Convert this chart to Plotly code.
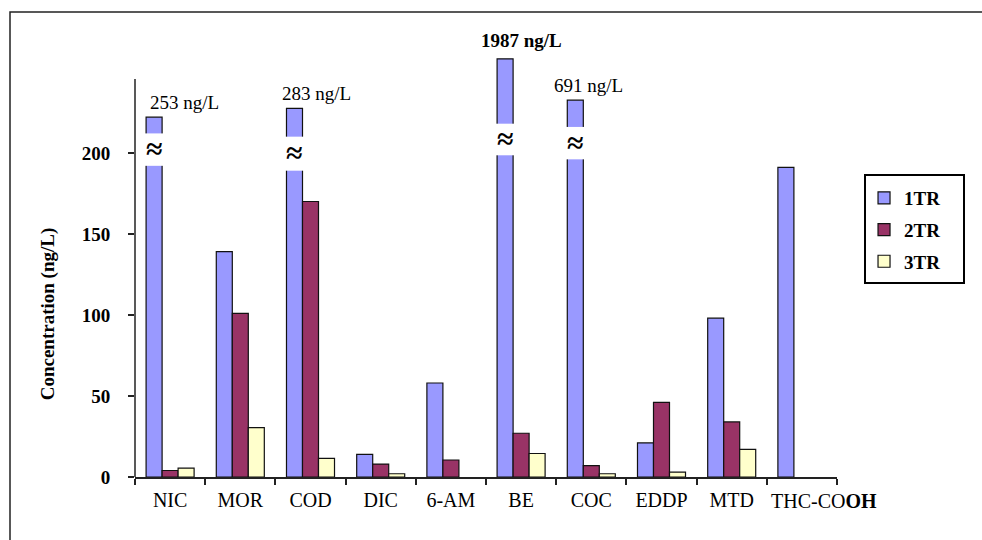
import plotly.graph_objects as go

# Compounds measured in each treatment step
categories = ["NIC", "MOR", "COD", "DIC", "6-AM", "BE", "COC", "EDDP", "MTD", "THC-COOH"]
tick_text = ["NIC", "MOR", "COD", "DIC", "6-AM", "BE", "COC", "EDDP", "MTD", "THC-CO<b>OH</b>"]

# Concentrations (ng/L); None = not detected
tr1 = [253, 139, 283, 14, 58, 1987, 691, 21, 98, 191]
tr2 = [4, 101, 170, 8, 10.5, 27, 7, 46, 34, None]
tr3 = [5.5, 30.5, 11.5, 2, None, 14.5, 2, 3, 17, None]

y_ticks = [0, 50, 100, 150, 200]

# Bars above the axis break are drawn to a shortened height, with a cut
axis_break = 200
cut_top = {"NIC": 222, "COD": 227.5, "BE": 258, "COC": 232.5}
cut_gap = {"NIC": (192, 212), "COD": (189, 210), "BE": (198.5, 218), "COC": (196, 216)}
label_shift = {"NIC": (14, 2), "COD": (6, 2), "BE": (0, 6), "COC": (-3, 2)}
bold_labels = {"BE"}

FONT = "Liberation Serif"
colors = {"1TR": "#9999FF", "2TR": "#993366", "3TR": "#FFFFCC"}
bargap = 0.316
bw = (1 - bargap) / 3  # width of one bar in category units

tr1_drawn = [cut_top[c] if (v is not None and v > axis_break) else v
             for c, v in zip(categories, tr1)]

fig = go.Figure()
for name, drawn, real in [("1TR", tr1_drawn, tr1), ("2TR", tr2, tr2), ("3TR", tr3, tr3)]:
    fig.add_bar(
        x=categories, y=drawn, name=name, legendgroup=name,
        customdata=real, hovertemplate="%{x}: %{customdata} ng/L<extra>" + name + "</extra>",
        marker=dict(color=colors[name], line=dict(color="#111111", width=1.2)),
    )

shapes = []
annotations = []
for i, c in enumerate(categories):
    if c not in cut_top:
        continue
    lo, hi = cut_gap[c]
    xc = i - bw
    shapes.append(dict(type="rect", xref="x", yref="y",
                       x0=xc - bw / 2 - 0.03, x1=xc + bw / 2 + 0.03, y0=lo, y1=hi,
                       fillcolor="white", line=dict(width=0), layer="above"))
    annotations.append(dict(x=xc, y=(lo + hi) / 2, xref="x", yref="y", text="≈",
                            showarrow=False, yshift=1,
                            font=dict(family=FONT, size=30, color="black", weight="bold")))
    dx, dy = label_shift[c]
    txt = f"{tr1[i]} ng/L"
    annotations.append(dict(x=i, y=cut_top[c], xref="x", yref="y", text=txt,
                            showarrow=False, yanchor="bottom", xshift=dx, yshift=dy,
                            font=dict(family=FONT, size=19, color="black",
                                      weight="bold" if c in bold_labels else "normal")))

# the last category name is long; it is set a little to the right of its slot
axis_text = list(tick_text)
last = len(categories) - 1
annotations.append(dict(x=last, y=(477 - 501) / 470, xref="x", yref="paper",
                        text=axis_text[last], showarrow=False, xshift=22, yanchor="middle",
                        font=dict(family=FONT, size=20, color="black")))
axis_text[last] = ""

# y axis line stops at the top of the scale
shapes.append(dict(type="line", xref="paper", yref="y", x0=0, x1=0, y0=0, y1=245.5,
                   line=dict(color="#222222", width=1.5)))
# outer frame
shapes.append(dict(type="rect", xref="paper", yref="paper",
                   x0=(10 - 135) / 702, x1=1.3, y0=-0.3, y1=(477 - 12) / 470,
                   line=dict(color="#222222", width=1.5), fillcolor="rgba(0,0,0,0)", layer="below"))
# legend box
shapes.append(dict(type="rect", xref="paper", yref="paper",
                   x0=(865 - 135) / 702, x1=(964 - 135) / 702,
                   y0=(477 - 283) / 470, y1=(477 - 175) / 470,
                   line=dict(color="black", width=2), fillcolor="rgba(0,0,0,0)", layer="above"))

annotations.append(dict(x=(46 - 135) / 702, y=101, xref="paper", yref="y",
                        text="Concentration (ng/L)", textangle=-90, showarrow=False,
                        xshift=-11,
                        font=dict(family=FONT, size=19, color="black", weight="bold")))

fig.update_layout(
    width=982, height=540,
    margin=dict(l=135, r=145, t=7, b=63),
    plot_bgcolor="white", paper_bgcolor="white",
    bargap=bargap, bargroupgap=0,
    font=dict(family=FONT, color="black"),
    shapes=shapes, annotations=annotations,
    legend=dict(x=1.0385, y=(477 - 179) / 470, xanchor="left", yanchor="top",
                borderwidth=0, bgcolor="rgba(0,0,0,0)",
                font=dict(family=FONT, size=19, weight="bold"), tracegroupgap=4),
    xaxis=dict(type="category", tickvals=categories, ticktext=axis_text,
               range=[-0.5, 9.5], showline=True, linecolor="#222222", linewidth=1.5,
               ticks="outside", tickson="boundaries", ticklen=6, tickwidth=1.5,
               tickcolor="#222222", showgrid=False, tickangle=0, automargin=False,
               ticklabelstandoff=4,
               tickfont=dict(family=FONT, size=20, color="black")),
    yaxis=dict(range=[0, 290], tickvals=y_ticks, ticks="outside", ticklen=6,
               tickwidth=1.5, tickcolor="#222222", showline=False, showgrid=False,
               zeroline=False, ticklabelstandoff=14, automargin=False,
               tickfont=dict(family=FONT, size=19, color="black", weight="bold")),
)

fig.write_html("out.html")
